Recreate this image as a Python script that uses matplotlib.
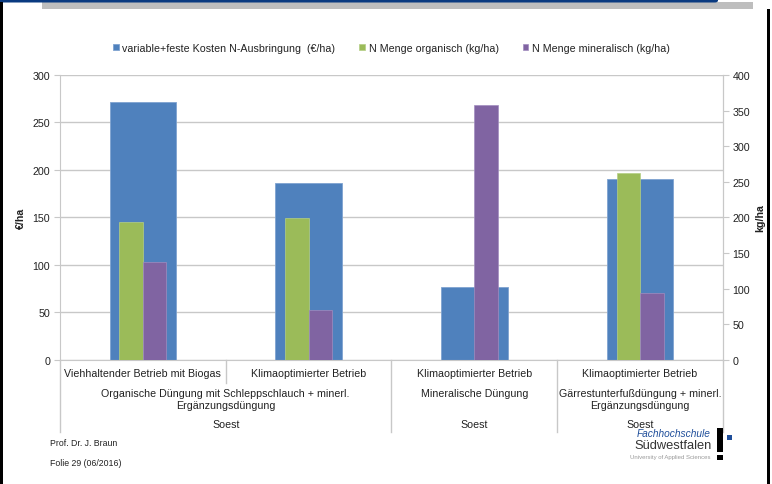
import matplotlib.pyplot as plt
import matplotlib.patches as mpatches
from matplotlib.transforms import blended_transform_factory

plt.rcParams['font.family'] = ['Liberation Sans', 'DejaVu Sans']

# Data
betriebe = ["Viehhaltender Betrieb mit Biogas", "Klimaoptimierter Betrieb",
            "Klimaoptimierter Betrieb", "Klimaoptimierter Betrieb"]
verfahren = ["Organische Düngung mit Schleppschlauch + minerl.\nErgänzungsdüngung",
             "Mineralische Düngung",
             "Gärrestunterfußdüngung + minerl.\nErgänzungsdüngung"]
verfahren_gruppen = [[0, 1], [2], [3]]
standort = ["Soest", "Soest", "Soest"]
kosten = [272, 186, 77, 190]          # €/ha
n_organisch = [194, 199, 0, 263]      # kg/ha
n_mineralisch = [138, 70, 358, 94]    # kg/ha

blue = "#4F81BD"
green = "#9BBB59"
purple = "#8064A2"
grid_col = "#C8C8C8"
text_col = "#222222"
fs = 7.7

fig = plt.figure(figsize=(7.72, 4.85), dpi=100)
ax = fig.add_axes([0.0777, 0.2557, 0.8588, 0.5876])
ax2 = ax.twinx()

x = list(range(len(kosten)))
ax.bar(x, kosten, width=0.40, color=blue, edgecolor="#7FA3D0", linewidth=0.6,
       zorder=2, label="variable+feste Kosten N-Ausbringung  (€/ha)")
ax2.bar([i - 0.071 for i in x], n_organisch, width=0.141, color=green,
        edgecolor="#B5CF85", linewidth=0.5, label="N Menge organisch (kg/ha)")
ax2.bar([i + 0.071 for i in x], n_mineralisch, width=0.141, color=purple,
        edgecolor="#A18DBF", linewidth=0.5, label="N Menge mineralisch (kg/ha)")

ax.set_xlim(-0.5, len(kosten) - 0.5)
ax.set_ylim(0, 300)
ax2.set_ylim(0, 400)
ax.set_yticks(range(0, 301, 50))
ax2.set_yticks(range(0, 401, 50))
ax.yaxis.grid(True, color=grid_col, linewidth=1.0, zorder=0)
ax.set_axisbelow(True)
ax.set_xticks([])

for a in (ax, ax2):
    a.spines["top"].set_visible(False)
    for s in ("left", "right", "bottom"):
        a.spines[s].set_color(grid_col)
    a.tick_params(axis="y", direction="out", length=4, color=grid_col,
                  labelsize=7.7, labelcolor=text_col, pad=3)
ax2.spines["left"].set_visible(False)
ax2.spines["bottom"].set_visible(False)

ax.set_ylabel("€/ha", fontsize=fs, fontweight="bold", color=text_col)
ax.yaxis.set_label_coords(-0.051, 0.5)
ax2.set_ylabel("kg/ha", fontsize=fs, fontweight="bold", color=text_col)
ax2.yaxis.set_label_coords(1.049, 0.5)

# Multi-level category axis
tr = blended_transform_factory(ax.transData, ax.transAxes)
for i, name in enumerate(betriebe):
    ax.text(i, -0.046, name, transform=tr, ha="center", va="center",
            fontsize=fs, color=text_col)
for grp, name in zip(verfahren_gruppen, verfahren):
    xc = sum(grp) / len(grp)
    ax.text(xc, -0.097, name, transform=tr, ha="center", va="top",
            fontsize=fs, color=text_col, linespacing=1.35)
for grp, name in zip(verfahren_gruppen, standort):
    xc = sum(grp) / len(grp)
    ax.text(xc, -0.225, name, transform=tr, ha="center", va="center",
            fontsize=fs, color=text_col)

ax.plot([0.5, 0.5], [0, -0.08], transform=tr, color=grid_col, lw=1,
        clip_on=False)
for xs in (-0.5, 1.5, 2.5, 3.5):
    ax.plot([xs, xs], [0, -0.253], transform=tr, color=grid_col, lw=1,
            clip_on=False)

# Legend
h1, l1 = ax.get_legend_handles_labels()
h2, l2 = ax2.get_legend_handles_labels()
ax2.legend(h1 + h2, l1 + l2, loc="center", bbox_to_anchor=(0.5, 1.095),
           ncol=3, frameon=False, fontsize=fs, handlelength=0.5,
           handleheight=0.5, handletextpad=0.35, columnspacing=2.25,
           labelcolor=text_col)

# Slide decorations
fig.patches.append(mpatches.Rectangle((42 / 772, 1 - 9.5 / 485), 711 / 772, 6.5 / 485,
                                      transform=fig.transFigure, color="#BEBEBE", lw=0))
fig.patches.append(mpatches.FancyBboxPatch((-0.02, 1 - 3.5 / 485), 718 / 772 + 0.02, 6 / 485,
                                           boxstyle="round,pad=0,rounding_size=0.004",
                                           transform=fig.transFigure, color="#0A3A80", lw=0))
fig.patches.append(mpatches.Rectangle((0, 0), 3 / 772, 1 - 3 / 485,
                                      transform=fig.transFigure, color="black", lw=0))
fig.patches.append(mpatches.Rectangle((767 / 772, 0), 3 / 772, 1 - 10 / 485,
                                      transform=fig.transFigure, color="black", lw=0))

fig.text(50 / 772, 1 - 444 / 485, "Prof. Dr. J. Braun", fontsize=6.3,
         color=text_col, va="center")
fig.text(50 / 772, 1 - 463 / 485, "Folie 29 (06/2016)", fontsize=6.3,
         color=text_col, va="center")

# Logo
fig.text(711 / 772, 1 - 434 / 485, "Fachhochschule", fontsize=7.3, style="italic",
         color="#1F4E9A", ha="right", va="center")
fig.text(712 / 772, 1 - 446 / 485, "Südwestfalen", fontsize=9.3,
         color="#333333", ha="right", va="center")
fig.text(711 / 772, 1 - 458 / 485, "University of Applied Sciences", fontsize=4.3,
         color="#999999", ha="right", va="center")
fig.patches.append(mpatches.Rectangle((717 / 772, 1 - 453 / 485), 6 / 772, 24 / 485,
                                      transform=fig.transFigure, color="black", lw=0))
fig.patches.append(mpatches.Rectangle((717 / 772, 1 - 461 / 485), 6 / 772, 5 / 485,
                                      transform=fig.transFigure, color="black", lw=0))
fig.patches.append(mpatches.Rectangle((727 / 772, 1 - 441 / 485), 5 / 772, 5 / 485,
                                      transform=fig.transFigure, color="#1F4E9A", lw=0))

fig.savefig("out.png", dpi=100)
